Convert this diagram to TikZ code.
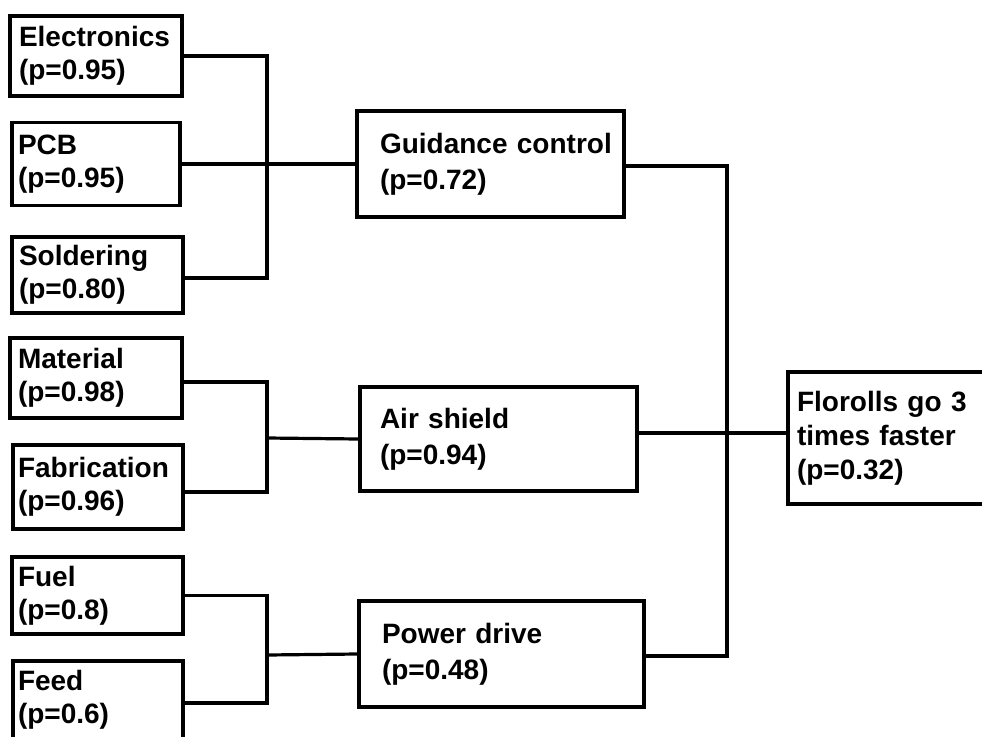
\documentclass[tikz,border=0pt]{standalone}
\usepackage{fontspec}
\setmainfont{Liberation Sans}
\begin{document}
\begin{tikzpicture}[x=1pt,y=-1pt,
  blk/.style={draw=black, line width=3.5pt, fill=white, inner sep=0pt,
    align=left, font=\bfseries\fontsize{28}{33}\selectfont},
  midblk/.style={blk, font=\bfseries\fontsize{28}{36}\selectfont},
  topblk/.style={blk, font=\bfseries\fontsize{28}{34}\selectfont},
  wire/.style={draw=black, line width=3.2pt, line join=miter}]
\useasboundingbox (0,0) rectangle (982,736);
\clip (0,0) rectangle (982,736);

% basic component blocks
\node[blk, minimum width=172pt, minimum height=80pt, text width=154pt] (el)  at (96,56)    {Electronics\\(p=0.95)};
\node[blk, minimum width=168pt, minimum height=83pt, text width=156pt] (pcb) at (96,164)   {PCB\\(p=0.95)};
\node[blk, minimum width=171pt, minimum height=76pt, text width=157pt] (sol) at (97.5,275) {Soldering\\(p=0.80)};
\node[blk, minimum width=172pt, minimum height=80pt, text width=156pt] (mat) at (96,378)   {Material\\(p=0.98)};
\node[blk, minimum width=170pt, minimum height=84pt, text width=160pt] (fab) at (98,487)   {Fabrication\\(p=0.96)};
\node[blk, minimum width=171pt, minimum height=77pt, text width=159pt] (fuel) at (97.5,595.5) {Fuel\\(p=0.8)};
\node[blk, minimum width=170pt, minimum height=78pt, text width=160pt] (feed) at (98,700)  {Feed\\(p=0.6)};

% subsystems
\node[midblk, minimum width=267pt, minimum height=106pt, text width=221pt] (gc)  at (490.5,164) {\mbox{Guidance control}\\(p=0.72)};
\node[midblk, minimum width=277pt, minimum height=104pt, text width=237pt] (air) at (498.5,439) {Air shield\\(p=0.94)};
\node[midblk, minimum width=285pt, minimum height=106pt, text width=239pt] (pow) at (501.5,654) {Power drive\\(p=0.48)};

% overall goal, running off the right side
\node[topblk, minimum width=280pt, minimum height=132pt, text width=262pt] (flo) at (928,438) {Florolls go 3\\times faster\\(p=0.32)};

% bus junctions
\coordinate (busA) at (267,164);
\coordinate (busB) at (267,438);
\coordinate (busC) at (267,655);
\coordinate (busD) at (727,433);

% connectors
\draw[wire] (el.east) -| (busA) |- ([yshift=-3pt]sol.east);
\draw[wire] (pcb.east) -- (gc.west);
\draw[wire] ([yshift=-4pt]mat.east) -| (busB) |- ([yshift=-5pt]fab.east);
\draw[wire] (busB) -- (air.west);
\draw[wire] (fuel.east) -| (busC) |- ([yshift=-3pt]feed.east);
\draw[wire] (busC) -- (pow.west);
\draw[wire] ([yshift=-2pt]gc.east) -| (busD) |- ([yshift=-2pt]pow.east);
\draw[wire] ([yshift=6pt]air.east) -- (busD) -- (flo.west |- busD);
\end{tikzpicture}
\end{document}
